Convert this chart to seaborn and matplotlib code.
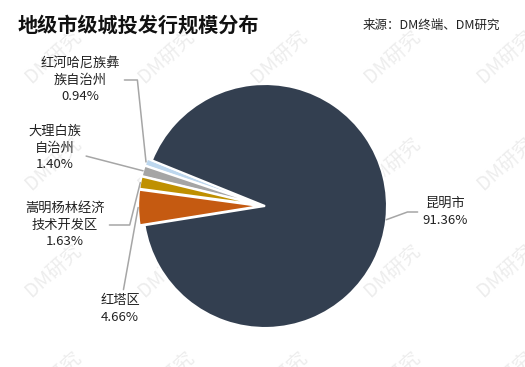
import numpy as np
import seaborn as sns
import matplotlib.pyplot as plt

# data
regions = ['红河哈尼族彝\n族自治州', '大理白族\n自治州', '嵩明杨林经济\n技术开发区', '红塔区', '昆明市']
shares = [0.94, 1.40, 1.63, 4.66, 91.36]
colors = ['#BDD7EE', '#A5A5A5', '#BF9000', '#C55A11', '#333F50']

sns.set_theme(style='white')
plt.rcParams['font.family'] = ['Noto Sans CJK SC', 'DejaVu Sans']

W, H, DPI = 525, 367, 100
cx, cy, R = 265, 206, 122   # pie centre / radius in pixels

fig = plt.figure(figsize=(W / DPI, H / DPI), dpi=DPI)
fig.patch.set_facecolor('white')

# faint tiled watermark, under the pie
for yy in np.arange(57, 400, 107):
    for xx in np.arange(53, 540, 113):
        fig.text(xx / W, 1 - yy / H, 'DM研究', rotation=42, fontsize=14,
                 color='#EDEDED', ha='center', va='center', zorder=-5)

ax = fig.add_axes([0, 0, 1, 1])
ax.patch.set_alpha(0)

explode = [0.04, 0.04, 0.04, 0.04, 0]
wedges, _ = ax.pie(shares, colors=colors, startangle=158, counterclock=True,
                   explode=explode, radius=1,
                   wedgeprops=dict(edgecolor='white', linewidth=1.5))
ax.set_aspect('auto')
ax.set_xlim(-cx / R, (W - cx) / R)
ax.set_ylim((cy - H) / R, cy / R)
ax.axis('off')

# label placement (pixel coords of text centre) and leader style
label_pos = [(80, 80), (55, 148), (65, 225), (120, 309), (445, 212)]
conn = ['angle,angleA=0,angleB=96,rad=0', 'arc3,rad=0',
        'angle,angleA=0,angleB=76,rad=0', 'arc3,rad=0',
        'angle,angleA=0,angleB=20,rad=0']

for w, name, v, (px, py), cs, ex in zip(wedges, regions, shares, label_pos, conn, explode):
    ang = np.deg2rad((w.theta1 + w.theta2) / 2)
    r = 1 + ex
    xy = (r * np.cos(ang), r * np.sin(ang))
    txt = (px - cx) / R, (cy - py) / R
    ax.annotate(f'{name}\n{v:.2f}%', xy=xy, xytext=txt, ha='center', va='center',
                fontsize=9.5, color='#222222', linespacing=1.35,
                arrowprops=dict(arrowstyle='-', color='#A6A6A6', lw=1.1,
                                connectionstyle=cs, shrinkA=1, shrinkB=0))

fig.text(18 / W, 1 - 25 / H, '地级市级城投发行规模分布', fontsize=14.5, fontweight='bold',
         ha='left', va='center', color='#111111')
fig.text(500 / W, 1 - 25 / H, '来源：DM终端、DM研究', fontsize=9,
         ha='right', va='center', color='#222222')

fig.savefig('out.png', dpi=DPI)
